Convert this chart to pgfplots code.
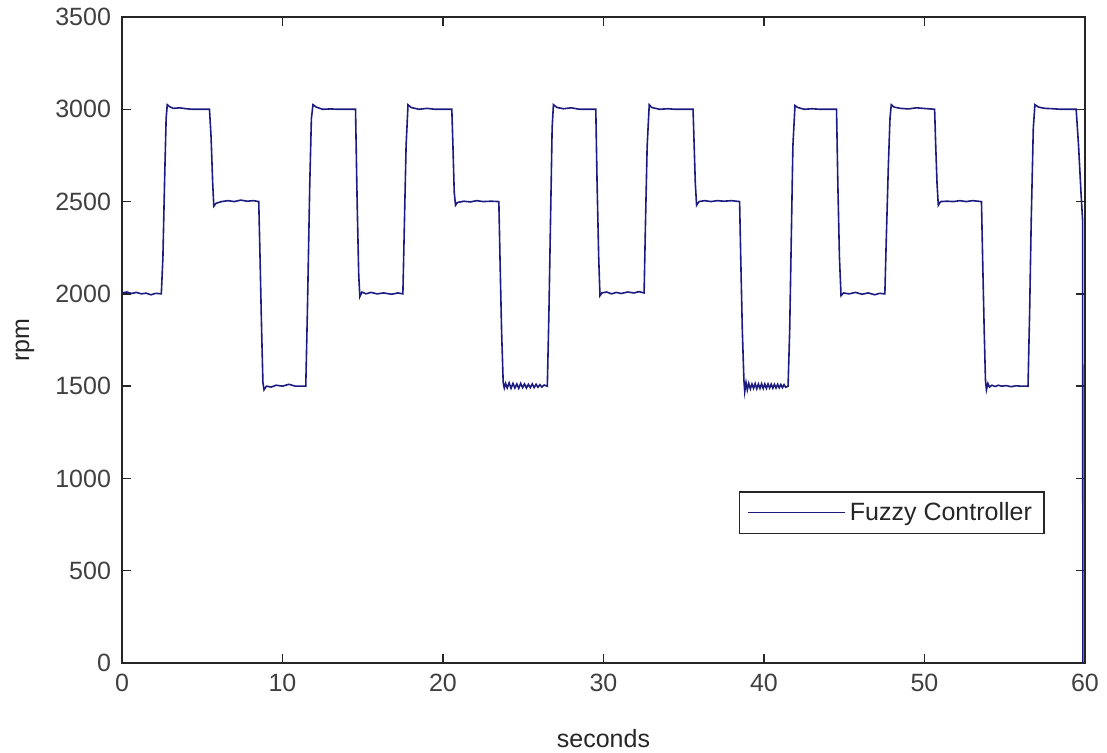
\documentclass[border=0pt]{standalone}
\usepackage{pgfplots}
\pgfplotsset{compat=1.18}
\usepackage{fontspec}
\setmainfont{Liberation Sans}
\definecolor{linec}{RGB}{28,28,128}
\definecolor{axc}{RGB}{38,38,38}
\definecolor{tickc}{RGB}{64,64,64}
\begin{document}
\begin{tikzpicture}
\useasboundingbox (-61pt,-44.5pt) rectangle (492.5pt,331.5pt);
\begin{axis}[
  scale only axis,
  width=481.5pt, height=323pt,
  xmin=0, xmax=60, ymin=0, ymax=3500,
  xtick={0,10,...,60}, ytick={0,500,...,3500},
  tick align=inside, tick pos=both,
  major tick length=4.5pt,
  axis line style={axc, line width=0.7pt},
  every tick/.style={axc, line width=0.7pt},
  /pgf/number format/assume math mode=true,
  /pgf/number format/1000 sep={},
  tick label style={font=\fontsize{12.5}{14}\selectfont, text=tickc},
  yticklabel style={xshift=-2pt},
  xticklabel style={yshift=-2pt},
  label style={font=\fontsize{12.5}{14}\selectfont, text=axc},
  xlabel={seconds},
  ylabel={rpm},
  xlabel style={at={([yshift=-38pt]axis description cs:0.5,0)}, anchor=center},
  ylabel style={at={([xshift=-48.5pt]axis description cs:0,0.5)}, anchor=center},
  legend style={at={(0.958,0.2)}, anchor=south east, draw=axc, line width=0.6pt,
    font=\fontsize{12.5}{14}\selectfont, text=axc, inner xsep=4pt, inner ysep=3pt},
  legend cell align=left,
  legend image code/.code={\path (-3.5pt,0pt) -- (45pt,0pt); \draw[#1] (0pt,0pt) -- (42pt,0pt);},
]
\addplot[linec, line width=0.8pt] coordinates {
(0,2005)(0.3,2010)(0.6,2002)(0.9,2008)(1.2,2000)(1.5,2004)(1.8,1995)(2.1,2003)(2.45,2000)
(2.55,2200)(2.65,2600)(2.75,2950)(2.82,3025)(2.95,3015)(3.2,3005)(3.6,3008)(4.0,3003)(4.4,3000)(5.0,3000)(5.45,3000)
(5.55,2850)(5.65,2600)(5.72,2475)(5.85,2490)(6.2,2500)(6.6,2505)(7.0,2500)(7.4,2508)(7.8,2502)(8.2,2505)(8.52,2500)
(8.6,2200)(8.7,1800)(8.78,1520)(8.85,1480)(9.0,1500)(9.3,1495)(9.6,1505)(10.0,1500)(10.4,1510)(10.8,1500)(11.45,1500)
(11.55,1900)(11.7,2600)(11.8,2950)(11.9,3025)(12.1,3012)(12.5,3000)(13.0,3002)(13.5,3000)(14.55,3000)
(14.65,2500)(14.75,2100)(14.82,1985)(14.95,2010)(15.2,2000)(15.5,2008)(15.9,2000)(16.3,2005)(16.8,1998)(17.2,2005)(17.5,2000)
(17.6,2400)(17.7,2800)(17.82,3025)(18.0,3010)(18.5,3000)(19.0,3005)(19.5,3000)(20.55,3000)
(20.62,2800)(20.7,2550)(20.78,2480)(20.9,2495)(21.3,2502)(21.7,2498)(22.1,2505)(22.5,2500)(23.0,2502)(23.48,2500)
(23.55,2200)(23.65,1800)(23.75,1520)(23.82,1490)
(23.9,1515)(24.0,1490)(24.12,1518)(24.24,1488)(24.36,1515)(24.48,1490)(24.6,1512)(24.72,1488)(24.84,1515)(24.96,1492)(25.08,1512)(25.2,1490)(25.32,1510)(25.44,1492)(25.56,1512)(25.68,1492)(25.8,1510)(25.92,1494)(26.04,1508)(26.16,1495)(26.3,1506)(26.5,1500)
(26.6,1900)(26.7,2400)(26.8,2900)(26.88,3025)(27.1,3010)(27.5,3003)(28.0,3008)(28.5,3000)(29.52,3000)
(29.6,2600)(29.7,2200)(29.78,1990)(29.9,2005)(30.2,2010)(30.5,2000)(30.8,2008)(31.1,2002)(31.5,2010)(31.9,2005)(32.2,2012)(32.53,2005)
(32.62,2400)(32.72,2800)(32.85,3025)(33.0,3010)(33.5,3000)(34.0,3003)(34.5,3000)(35.58,3000)
(35.65,2800)(35.72,2600)(35.8,2480)(35.95,2500)(36.3,2505)(36.7,2500)(37.1,2505)(37.5,2502)(38.0,2505)(38.48,2500)
(38.55,2200)(38.65,1800)(38.75,1530)(38.8,1470)(38.88,1520)(38.96,1480)(39.05,1515)(39.15,1485)(39.25,1512)(39.35,1488)(39.45,1514)(39.55,1486)(39.65,1512)(39.75,1488)(39.85,1513)(39.95,1487)(40.05,1512)(40.15,1488)(40.25,1512)(40.35,1490)(40.45,1511)(40.55,1489)(40.65,1510)(40.75,1490)(40.85,1510)(40.95,1491)(41.05,1509)(41.15,1492)(41.25,1508)(41.35,1494)(41.5,1500)
(41.6,1800)(41.7,2300)(41.8,2800)(41.93,3020)(42.1,3010)(42.5,3000)(43.0,3003)(43.5,3000)(44.52,3000)
(44.6,2600)(44.7,2200)(44.8,1990)(44.95,2005)(45.3,2000)(45.7,2008)(46.1,1998)(46.5,2005)(46.9,1995)(47.2,2003)(47.53,2000)
(47.62,2300)(47.75,2700)(47.85,2950)(47.93,3025)(48.1,3012)(48.5,3005)(49.0,3002)(49.5,3008)(50.63,3000)
(50.7,2800)(50.78,2600)(50.86,2480)(51.0,2500)(51.4,2502)(51.8,2500)(52.2,2505)(52.6,2500)(53.0,2505)(53.55,2500)
(53.62,2200)(53.72,1800)(53.8,1530)(53.86,1480)(53.95,1515)(54.05,1495)(54.2,1505)(54.4,1498)(54.6,1505)(54.8,1500)(55.1,1503)(55.4,1497)(55.7,1502)(56.0,1500)(56.45,1500)
(56.55,1900)(56.65,2400)(56.78,2900)(56.88,3025)(57.1,3012)(57.5,3005)(58.0,3003)(58.5,3000)(59.45,3000)
(59.6,2800)(59.75,2550)(59.85,2400)(59.87,0)
};
\addlegendentry{Fuzzy Controller}
\end{axis}
\end{tikzpicture}
\end{document}
